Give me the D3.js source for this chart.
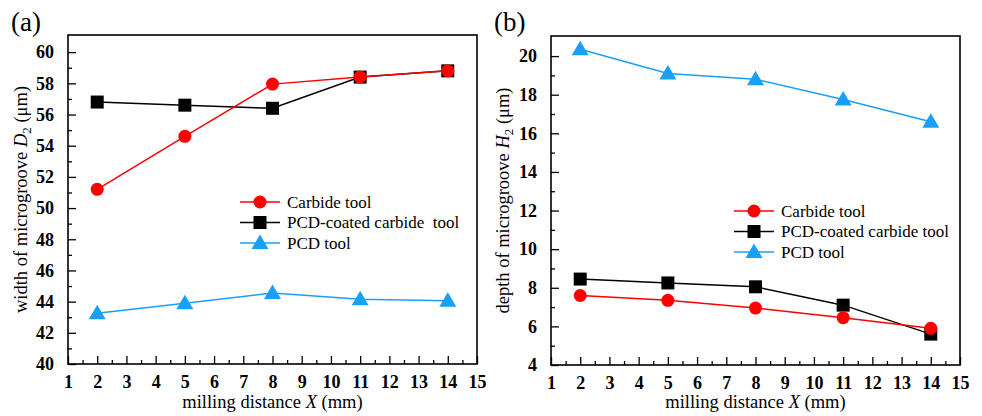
<!DOCTYPE html>
<html>
<head>
<meta charset="utf-8">
<script src="https://cdn.jsdelivr.net/npm/d3@7"></script>
<style>
  body { margin: 0; background: #fff; }
  svg text { font-family: "Liberation Serif", "Times New Roman", Times, serif !important; white-space: pre; }
</style>
</head>
<body>
<svg id="chart" width="982" height="416"></svg>
<script>
// milling distance (mm)
var distance = [2, 5, 8, 11, 14];
var seriesNames = ['Carbide tool', 'PCD-coated carbide  tool', 'PCD tool'];
var seriesNamesB = ['Carbide tool', 'PCD-coated carbide tool', 'PCD tool'];

// (a) width of microgroove D2 (um)
var widthCarbide = [51.2, 54.6, 57.95, 58.4, 58.8];
var widthCoated  = [56.8, 56.6, 56.4, 58.4, 58.8];
var widthPCD     = [43.25, 43.9, 44.55, 44.15, 44.05];

// (b) depth of microgroove H2 (um)
var depthCarbide = [7.6, 7.35, 6.95, 6.45, 5.9];
var depthCoated  = [8.45, 8.25, 8.05, 7.1, 5.6];
var depthPCD     = [20.35, 19.1, 18.8, 17.75, 16.6];

var xTicks = d3.range(1, 16);
var yTicksA = d3.range(40, 61, 2);
var yTicksB = d3.range(4, 21, 2);

var colors = ['#ff0000', '#000000', '#1a9ff8'];
var shapes = ['circle', 'square', 'triangle'];

var svg = d3.select('#chart');

function marker(g, shape, color) {
  if (shape == 'circle') {
    g.append('circle').attr('r', 6.5).attr('fill', color);
  } else if (shape == 'square') {
    g.append('rect').attr('x', -6.5).attr('y', -6.5).attr('width', 13).attr('height', 13).attr('fill', color);
  } else {
    g.append('path').attr('d', 'M0,-8.5L8.5,6L-8.5,6Z').attr('fill', color);
  }
}

function panel(opt) {
  var x = d3.scaleLinear().domain([1, 15]).range([opt.left, opt.right]);
  var y = d3.scaleLinear().domain(opt.ydomain).range([opt.bottom, opt.top]);
  var g = svg.append('g');

  // frame
  g.append('rect')
    .attr('x', opt.left).attr('y', opt.top)
    .attr('width', opt.right - opt.left).attr('height', opt.bottom - opt.top)
    .attr('fill', 'none').attr('stroke', '#000').attr('stroke-width', 1.6);

  // minor ticks
  g.append('g').attr('transform', 'translate(0,' + opt.bottom + ')')
    .call(d3.axisBottom(x).tickValues(d3.range(1.5, 15, 1)).tickSize(-4).tickFormat(''))
    .call(function(a) { a.select('.domain').remove(); });
  g.append('g').attr('transform', 'translate(' + opt.left + ',0)')
    .call(d3.axisLeft(y).tickValues(opt.minor).tickSize(-4).tickFormat(''))
    .call(function(a) { a.select('.domain').remove(); });

  // major ticks
  var xa = g.append('g').attr('transform', 'translate(0,' + opt.bottom + ')')
    .call(d3.axisBottom(x).tickValues(xTicks).tickSize(-8).tickPadding(11).tickFormat(d3.format('d')));
  var ya = g.append('g').attr('transform', 'translate(' + opt.left + ',0)')
    .call(d3.axisLeft(y).tickValues(opt.yticks).tickSize(-8).tickPadding(14).tickFormat(d3.format('d')));
  [xa, ya].forEach(function(a) {
    a.select('.domain').remove();
    a.attr('font-family', null);
    a.selectAll('text').attr('font-size', 18).attr('font-weight', 'bold').attr('fill', '#000');
  });
  g.selectAll('.tick line').attr('stroke', '#000').attr('stroke-width', 1.3);

  // x title
  var xt = g.append('text')
    .attr('x', (opt.left + opt.right) / 2).attr('y', 408)
    .attr('text-anchor', 'middle').attr('font-size', 18.5);
  xt.append('tspan').text('milling distance ');
  xt.append('tspan').attr('font-style', 'italic').text('X');
  xt.append('tspan').text(' (mm)');

  // y title
  var yt = g.append('text')
    .attr('transform', 'translate(' + opt.ytitleX + ',' + ((opt.top + opt.bottom) / 2) + ') rotate(-90)')
    .attr('text-anchor', 'middle').attr('font-size', 18.5);
  yt.append('tspan').text(opt.ytitle + ' ');
  yt.append('tspan').attr('font-style', 'italic').text(opt.sym);
  yt.append('tspan').attr('font-size', 13).attr('dy', 4).text('2');
  yt.append('tspan').attr('dy', -4).text(' (\u03bcm)');

  // panel label
  g.append('text').attr('x', opt.labelX).attr('y', 31)
    .attr('font-size', 27).text(opt.label);

  // series, drawn blue -> black -> red so red sits on top
  var line = d3.line().x(function(d, i) { return x(distance[i]); }).y(function(d) { return y(d); });
  [2, 1, 0].forEach(function(k) {
    var vals = opt.series[k];
    g.append('path').datum(vals).attr('d', line)
      .attr('fill', 'none').attr('stroke', colors[k]).attr('stroke-width', 1.5);
    vals.forEach(function(v, i) {
      var m = g.append('g').attr('transform', 'translate(' + x(distance[i]) + ',' + y(v) + ')');
      marker(m, shapes[k], colors[k]);
    });
  });

  // legend
  opt.names.forEach(function(name, k) {
    var ly = opt.legY + k * 20.5;
    g.append('line').attr('x1', opt.legX).attr('x2', opt.legX + 40)
      .attr('y1', ly).attr('y2', ly).attr('stroke', colors[k]).attr('stroke-width', 1.5);
    var m = g.append('g').attr('transform', 'translate(' + (opt.legX + 20) + ',' + ly + ')');
    marker(m, shapes[k], colors[k]);
    g.append('text').attr('x', opt.legX + 47).attr('y', ly + 5.5)
      .attr('font-size', 17).text(name);
  });
}

panel({
  left: 68, right: 477, top: 35, bottom: 364,
  ydomain: [40, 61.1], yticks: yTicksA, minor: d3.range(41, 61, 2),
  ytitle: 'width of microgroove', sym: 'D', ytitleX: 27,
  label: '(a)', labelX: 11,
  series: [widthCarbide, widthCoated, widthPCD], names: seriesNames,
  legX: 240, legY: 202
});

panel({
  left: 551, right: 960, top: 36, bottom: 365,
  ydomain: [4, 21.04], yticks: yTicksB, minor: d3.range(5, 21, 2),
  ytitle: 'depth of microgroove', sym: 'H', ytitleX: 509,
  label: '(b)', labelX: 494,
  series: [depthCarbide, depthCoated, depthPCD], names: seriesNamesB,
  legX: 734, legY: 211
});
</script>
</body>
</html>
